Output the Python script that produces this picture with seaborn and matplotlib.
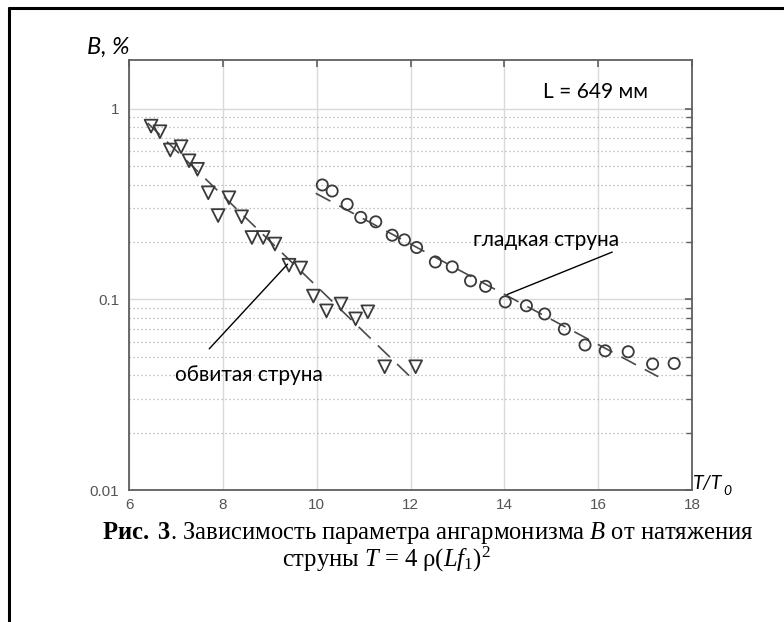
import matplotlib
matplotlib.use("Agg")
import matplotlib.pyplot as plt
import seaborn as sns
import pandas as pd
import numpy as np
from matplotlib.ticker import LogLocator, NullFormatter
from matplotlib.lines import Line2D

# ---------------- data ----------------
tri_x = [6.47, 6.66, 6.88, 7.11, 7.28, 7.46, 7.69, 7.90, 8.13, 8.40, 8.62,
         8.86, 9.11, 9.41, 9.66, 9.93, 10.21, 10.52, 10.83, 11.09, 11.45, 12.11]
tri_y = [0.81, 0.757, 0.607, 0.632, 0.533, 0.481, 0.362, 0.275, 0.341, 0.271, 0.211,
         0.211, 0.195, 0.151, 0.146, 0.104, 0.087, 0.0945, 0.079, 0.086, 0.0443, 0.0443]

circ_x = [10.12, 10.33, 10.65, 10.94, 11.26, 11.61, 11.87, 12.13, 12.53, 12.89, 13.28,
          13.60, 14.02, 14.47, 14.86, 15.28, 15.72, 16.15, 16.64, 17.16, 17.62]
circ_y = [0.398, 0.370, 0.315, 0.269, 0.255, 0.217, 0.205, 0.187, 0.157, 0.148, 0.125,
          0.117, 0.097, 0.0925, 0.0838, 0.0698, 0.0576, 0.0537, 0.0531, 0.0458, 0.0461]

tri_fit_x = [6.40, 12.03]
tri_fit_y = [0.84, 0.0385]
circ_fit_x = [9.98, 17.28]
circ_fit_y = [0.36, 0.0393]

glad_lead_x = [14.06, 16.30]
glad_lead_y = [0.106, 0.177]
obv_lead_x = [7.71, 9.38]
obv_lead_y = [0.055, 0.153]

x_ticks = [6, 8, 10, 12, 14, 16, 18]
y_ticks = [0.01, 0.1, 1]
y_tick_labels = ["0.01", "0.1", "1"]

label_smooth = "гладкая струна"
label_wound = "обвитая струна"
label_L = "L = 649 мм"
ylabel_txt = "B, %"
caption1 = r"$\mathbf{Рис.\ 3}$. Зависимость параметра ангармонизма $B$ от натяжения"
caption2 = r"струны $T$ = 4 ρ$(\mathit{Lf}_{\mathrm{1}})^{\mathrm{2}}$"

# ---------------- style ----------------
sns.set_style("white")
plt.rcParams.update({
    "font.family": ["Liberation Sans", "DejaVu Sans"],
    "mathtext.fontset": "custom",
    "mathtext.rm": "Liberation Serif",
    "mathtext.it": "Liberation Serif:italic",
    "mathtext.bf": "Liberation Serif:bold",
})

W, H = 784, 622
fig = plt.figure(figsize=(W / 100, H / 100), dpi=100)
fig.patch.set_facecolor("white")
ax = fig.add_axes([129 / W, 1 - 490 / H, (692 - 129) / W, (490 - 60) / H])
ax.set_yscale("log")

mark_col = "#3a3a3a"
line_col = "#4a4a4a"
ax_col = "#5f5f5f"

df_tri = pd.DataFrame({"x": tri_x, "y": tri_y})
df_circ = pd.DataFrame({"x": circ_x, "y": circ_y})

sns.lineplot(x=tri_fit_x, y=tri_fit_y, ax=ax, color=line_col, lw=1.2,
             linestyle=(0, (10, 6)), zorder=3)
sns.lineplot(x=circ_fit_x, y=circ_fit_y, ax=ax, color=line_col, lw=1.2,
             linestyle=(0, (10, 6)), zorder=3)

n0 = len(ax.collections)
sns.scatterplot(data=df_tri, x="x", y="y", marker="v", s=85, ax=ax,
                facecolor="none", edgecolor=mark_col, linewidth=1.3, zorder=4)
sns.scatterplot(data=df_circ, x="x", y="y", marker="o", s=65, ax=ax,
                facecolor="none", edgecolor=mark_col, linewidth=1.3, zorder=4)
for coll in ax.collections[n0:]:
    coll.set_facecolor("none")
    coll.set_edgecolor(mark_col)

# leader lines
ax.plot(glad_lead_x, glad_lead_y, color="black", lw=1.0, zorder=5)
ax.plot(obv_lead_x, obv_lead_y, color="black", lw=1.0, zorder=5)

# axes
ax.set_xlim(6, 18)
ax.set_ylim(0.01, 1.8)
ax.set_xticks(x_ticks)
ax.set_xticklabels([str(v) for v in x_ticks])
ax.set_yticks(y_ticks)
ax.set_yticklabels(y_tick_labels)
ax.yaxis.set_minor_locator(LogLocator(base=10, subs=np.arange(2, 10)))
ax.yaxis.set_minor_formatter(NullFormatter())
ax.set_xlabel("")
ax.set_ylabel("")

ax.set_axisbelow(True)
ax.grid(which="major", color="#d9d9d9", lw=1.0, ls="-")
ax.grid(which="minor", axis="y", color="#b0b0b0", lw=0.9, ls=(0, (1, 2.2)))

ax.tick_params(which="both", direction="in", top=True, right=True,
               color=ax_col, labelcolor="#555555", labelsize=11)
ax.tick_params(which="major", length=5, width=1.2)
ax.tick_params(which="minor", length=4, width=1.0)
ax.tick_params(axis="y", pad=7)
ax.tick_params(axis="x", pad=6)
for s in ax.spines.values():
    s.set_color(ax_col)
    s.set_linewidth(1.3)

# annotation texts
ann_font = "Lato"
ax.text(14.90, 0.205, label_smooth, ha="center", va="center", fontsize=15,
        family=ann_font, color="black", zorder=6)
ax.text(8.55, 0.040, label_wound, ha="center", va="center", fontsize=15,
        family=ann_font, color="black", zorder=6)
ax.text(0.828, 0.9256, label_L, transform=ax.transAxes, ha="center", va="center",
        fontsize=15, family=ann_font, color="black")

fig.text(87 / W, 1 - 47 / H, ylabel_txt, ha="left", va="center", fontsize=17,
         family=ann_font, style="italic", color="black")

# T/T0 label
renderer = fig.canvas.get_renderer()
tt = fig.text(693 / W, 1 - 489 / H, "T/T", ha="left", va="baseline", fontsize=14,
              family=ann_font, style="italic", color="black")
bb = tt.get_window_extent(renderer)
fig.text((bb.x1 + 0.5) / W, (bb.y0 - 3) / H, "0", ha="left", va="baseline",
         fontsize=10, family=ann_font, style="italic", color="black")

# caption
fig.text(428 / W, 1 - 533 / H, caption1, ha="center", va="center", fontsize=17.7,
         family="Liberation Serif", color="black")
fig.text(386 / W, 1 - 559 / H, caption2, ha="center", va="center", fontsize=17.7,
         family="Liberation Serif", color="black")

# frame lines of the original figure box
fig.add_artist(Line2D([9 / W, 9 / W], [0, 1 - 8 / H], transform=fig.transFigure,
                      color="black", lw=2.2))
fig.add_artist(Line2D([9 / W, 1], [1 - 8 / H, 1 - 8 / H], transform=fig.transFigure,
                      color="black", lw=2.2))

fig.savefig("out.png", dpi=100)
